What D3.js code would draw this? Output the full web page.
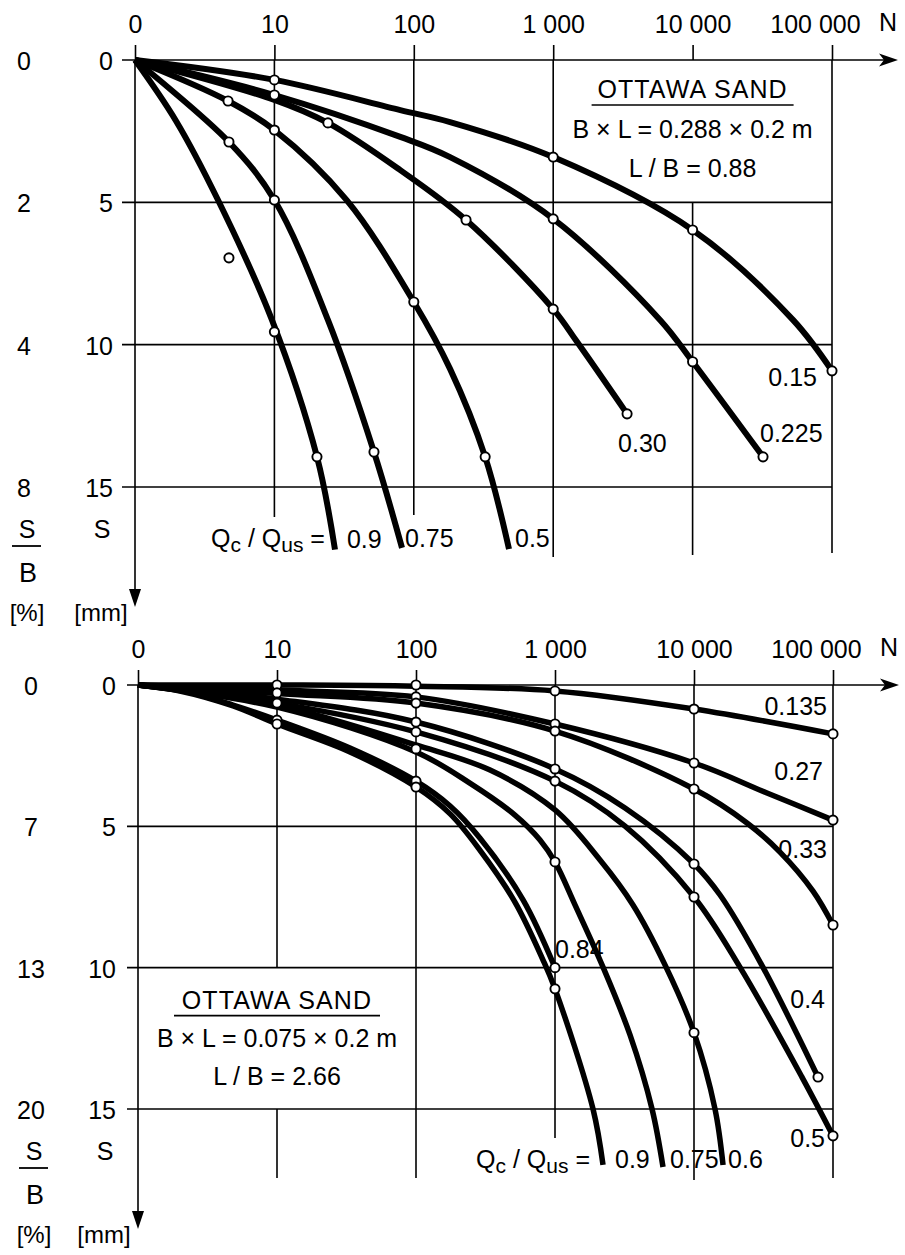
<!DOCTYPE html>
<html>
<head>
<meta charset="utf-8">
<script src="https://cdn.jsdelivr.net/npm/d3@7"></script>
<style>
  body { margin: 0; background: #fff; }
  svg text { font-family: "Liberation Sans", Arial, Helvetica, sans-serif; fill: #000; }
</style>
</head>
<body>
<svg id="chart" width="905" height="1255"></svg>
<script>
// Number of load cycles N (log axis; the "0" tick sits at N = 1)
const nTicks = [1, 10, 100, 1000, 10000, 100000];
const nTickLabels = ["0", "10", "100", "1 000", "10 000", "100 000"];
// Settlement s [mm]
const sTicks = [0, 5, 10, 15];
const topRatioLabels = ["0", "2", "4", "8"];
const bottomRatioLabels = ["0", "7", "13", "20"];

// Upper footing: B x L = 0.288 x 0.2 m, one curve per Qc/Qus
const topRatios = ["0.9", "0.75", "0.5", "0.30", "0.225", "0.15"];
const topN = [
  [1, 1.97, 3.94, 9.6, 20.2, 27.2],
  [1, 4.72, 10, 24.2, 51.8, 82.3],
  [1, 4.65, 10, 33, 100, 182, 325, 482],
  [1, 10, 24.2, 80, 237, 1000, 1482, 3388],
  [1, 10, 80, 182, 1000, 5840, 10000, 32000],
  [1, 10, 80, 182, 1000, 10000, 52500, 100000]
];
const topS = [
  [0, 2.14, 4.92, 9.13, 13.94, 17.2],
  [0, 2.88, 4.92, 9.13, 13.77, 17.14],
  [0, 1.44, 2.46, 4.92, 8.5, 10.85, 13.94, 17.18],
  [0, 1.4, 2.21, 3.87, 5.62, 8.75, 9.9, 12.43],
  [0, 1.23, 2.7, 3.41, 5.58, 9.13, 10.6, 13.94],
  [0, 0.70, 1.76, 2.18, 3.41, 5.97, 9.13, 10.92]
];
// Measured points (upper footing)
const topMarkN = [10, 1000, 10000, 100000, 10, 1000, 10000, 32000, 24.2, 237, 1000, 3388,
                  4.65, 10, 100, 325, 4.72, 10, 51.8, 4.72, 10, 20.2];
const topMarkS = [0.70, 3.41, 5.97, 10.92, 1.23, 5.58, 10.6, 13.94, 2.21, 5.62, 8.75, 12.43,
                  1.44, 2.46, 8.5, 13.94, 2.88, 4.92, 13.77, 6.95, 9.55, 13.94];

// Lower footing: B x L = 0.075 x 0.2 m
const bottomRatios = ["0.135", "0.27", "0.33", "0.4", "0.5", "0.6", "0.75", "0.84", "0.9"];
const bottomN = [
  [1, 10, 100, 1000, 10000, 100000],
  [1, 10, 100, 1000, 10000, 33500, 100000],
  [1, 10, 100, 1000, 10000, 24050, 41550, 71800, 100000],
  [1, 10, 100, 1000, 3190, 10000, 15400, 31300, 78000],
  [1, 10, 100, 1000, 3190, 10000, 21400, 59800, 100000],
  [1, 10, 100, 341, 1000, 2109, 3640, 6185, 10000, 14160, 16180],
  [1, 10, 100, 244, 515, 780, 1000, 1393, 2215, 3465, 4990, 5984],
  [1, 2, 4.83, 10, 33.5, 100, 176, 288, 589, 1000],
  [1, 2, 4.83, 10, 33.5, 100, 176, 288, 515, 820, 1000, 1877, 2215]
];
const bottomS = [
  [0, 0.0, 0.04, 0.21, 0.85, 1.73],
  [0, 0.18, 0.42, 1.38, 2.76, 3.82, 4.78],
  [0, 0.30, 0.64, 1.63, 3.68, 4.88, 5.91, 7.29, 8.49],
  [0, 0.50, 1.31, 2.97, 4.35, 6.33, 7.43, 9.98, 13.87],
  [0, 0.64, 1.66, 3.40, 4.99, 7.5, 9.98, 13.87, 15.95],
  [0, 0.71, 2.12, 3.01, 4.42, 6.19, 7.78, 9.9, 12.3, 15.0, 16.98],
  [0, 0.78, 2.37, 3.47, 4.60, 5.48, 6.26, 7.78, 9.98, 12.38, 15.0, 17.05],
  [0, 0.18, 0.71, 1.24, 2.23, 3.40, 4.28, 5.41, 7.6, 10.0],
  [0, 0.21, 0.74, 1.38, 2.37, 3.61, 4.56, 5.84, 7.68, 9.73, 10.75, 15.0, 16.98]
];
// Measured points (lower footing)
const bottomMarkN = [10, 10, 10, 10, 10,
                     100, 100, 100, 100, 100, 100, 100, 100,
                     1000, 1000, 1000, 1000, 1000, 1000, 1000, 1000,
                     10000, 10000, 10000, 10000, 10000, 10000,
                     100000, 100000, 100000, 100000, 78000];
const bottomMarkS = [0, 0.28, 0.64, 1.24, 1.38,
                     0, 0.42, 0.64, 1.31, 1.66, 2.26, 3.40, 3.61,
                     0.21, 1.38, 1.63, 2.97, 3.40, 6.26, 10.0, 10.75,
                     0.85, 2.76, 3.68, 6.33, 7.5, 12.3,
                     1.73, 4.78, 8.49, 15.95, 13.87];

const svg = d3.select("#chart");

function drawPanel(p) {
  const x = d3.scaleLog().domain([1, 100000]).range(p.xRange);
  const y = d3.scaleLinear().domain([0, 15]).range(p.yRange);
  const g = svg.append("g");
  const y0 = y(0), y15 = y(15), xEnd = x(100000);

  // horizontal grid lines
  g.selectAll("line.hgrid").data(sTicks.slice(1)).join("line")
    .attr("x1", p.gridLeft).attr("x2", xEnd)
    .attr("y1", d => y(d)).attr("y2", d => y(d))
    .attr("stroke", "#000").attr("stroke-width", 1.6);

  // vertical grid lines (one is interrupted behind the legend text)
  nTicks.slice(1).forEach((n, i) => {
    const bottom = y15 + p.gridDrop[i];
    let segs = [[y0, bottom]];
    if (p.gap && p.gap.n === n) segs = [[y0, y(p.gap.from)], [y(p.gap.to), bottom]];
    segs.forEach(([a, b]) => g.append("line")
      .attr("x1", x(n)).attr("x2", x(n)).attr("y1", a).attr("y2", b)
      .attr("stroke", "#000").attr("stroke-width", 1.6));
  });

  // N axis on top
  const axis = d3.axisTop(x).tickValues(nTicks)
    .tickFormat((d, i) => nTickLabels[i]).tickSize(15).tickPadding(12);
  const ag = g.append("g").attr("transform", `translate(0,${y0})`).call(axis);
  ag.select(".domain").remove();
  ag.attr("font-size", 25).attr("font-family", null);
  ag.selectAll(".tick line").attr("stroke", "#000").attr("stroke-width", 1.6);
  ag.selectAll(".tick text").attr("fill", "#000")
    .attr("dx", (d, i) => i === nTicks.length - 1 ? -17 : 0);

  g.append("line").attr("x1", p.gridLeft).attr("x2", p.arrowX - 12)
    .attr("y1", y0).attr("y2", y0).attr("stroke", "#000").attr("stroke-width", 1.6);
  g.append("path")
    .attr("d", `M${p.arrowX},${y0} L${p.arrowX - 19},${y0 - 6.5} L${p.arrowX - 14},${y0} L${p.arrowX - 19},${y0 + 6.5} Z`)
    .attr("fill", "#000");
  g.append("text").attr("x", p.arrowX - 10).attr("y", y0 - 29)
    .attr("text-anchor", "middle").attr("font-size", 25).text("N");

  // settlement axis (downwards)
  const ax0 = x(1), tip = y15 + 120;
  g.append("line").attr("x1", ax0).attr("x2", ax0).attr("y1", y0).attr("y2", tip - 10)
    .attr("stroke", "#000").attr("stroke-width", 1.6);
  g.append("path")
    .attr("d", `M${ax0},${tip} L${ax0 - 6},${tip - 18} L${ax0 + 6},${tip - 18} Z`)
    .attr("fill", "#000");

  // s [mm] and s/B [%] tick labels
  sTicks.forEach((s, i) => {
    g.append("text").attr("x", p.col2X).attr("y", y(s) + 10)
      .attr("text-anchor", "end").attr("font-size", 25).text(s);
    g.append("text").attr("x", p.col1X).attr("y", y(s) + 10)
      .attr("text-anchor", "middle").attr("font-size", 25).text(p.ratioLabels[i]);
  });
  g.append("text").attr("x", p.col1X + 3).attr("y", y15 + 51)
    .attr("text-anchor", "middle").attr("font-size", 25).text("S");
  g.append("line").attr("x1", p.col1X - 12).attr("x2", p.col1X + 17)
    .attr("y1", y15 + 59).attr("y2", y15 + 59).attr("stroke", "#000").attr("stroke-width", 1.8);
  g.append("text").attr("x", p.col1X + 4).attr("y", y15 + 95)
    .attr("text-anchor", "middle").attr("font-size", 27).text("B");
  g.append("text").attr("x", p.col1X + 3).attr("y", y15 + 134)
    .attr("text-anchor", "middle").attr("font-size", 24).text("[%]");
  g.append("text").attr("x", p.col2X - 11).attr("y", y15 + 51)
    .attr("text-anchor", "middle").attr("font-size", 25).text("S");
  g.append("text").attr("x", p.col2X - 12).attr("y", y15 + 134)
    .attr("text-anchor", "middle").attr("font-size", 24).text("[mm]");

  // legend block
  const lx = x(p.legend.n), ly = y(p.legend.s);
  g.append("text").attr("x", lx).attr("y", ly + p.legend.dy[0])
    .attr("text-anchor", "middle").attr("font-size", 25).attr("letter-spacing", 1.1)
    .text("OTTAWA SAND");
  g.append("line").attr("x1", lx - p.legend.ulHalf).attr("x2", lx + p.legend.ulHalf)
    .attr("y1", ly + p.legend.dy[0] + 7).attr("y2", ly + p.legend.dy[0] + 7)
    .attr("stroke", "#000").attr("stroke-width", 1.6);
  g.append("text").attr("x", lx).attr("y", ly + p.legend.dy[1])
    .attr("text-anchor", "middle").attr("font-size", 25).text(p.legend.size);
  g.append("text").attr("x", lx).attr("y", ly + p.legend.dy[2])
    .attr("text-anchor", "middle").attr("font-size", 25).text(p.legend.ratio);

  // curves
  const line = d3.line().x(d => x(d[0])).y(d => y(d[1])).curve(d3.curveCatmullRom.alpha(0.5));
  p.ratios.forEach((r, k) => {
    const pts = p.N[k].map((n, j) => [n, p.S[k][j]]);
    g.append("path").attr("d", line(pts)).attr("fill", "none")
      .attr("stroke", "#000").attr("stroke-width", p.curveWidth)
      .attr("stroke-linejoin", "round");
    const last = pts[pts.length - 1];
    const off = p.labelOffsets[r];
    g.append("text").attr("x", x(last[0]) + off[0]).attr("y", y(last[1]) + off[1])
      .attr("text-anchor", off[2]).attr("font-size", 25).text(r);
  });

  // measured points
  g.selectAll("circle.mark").data(p.markN.map((n, j) => [n, p.markS[j]])).join("circle")
    .attr("cx", d => x(d[0])).attr("cy", d => y(d[1])).attr("r", 4.6)
    .attr("fill", "#fff").attr("stroke", "#000").attr("stroke-width", 1.9);

  // Qc / Qus = caption, placed left of the steepest curve's end
  const k0 = p.ratios.indexOf(p.captionAfter);
  const endN = p.N[k0][p.N[k0].length - 1], endS = p.S[k0][p.S[k0].length - 1];
  const cap = g.append("text").attr("x", x(endN) + p.captionOffset[0])
    .attr("y", y(endS) + p.captionOffset[1])
    .attr("text-anchor", "end").attr("font-size", 25);
  cap.append("tspan").text("Q");
  cap.append("tspan").attr("font-size", 21).attr("dy", 5).text("c");
  cap.append("tspan").attr("dy", -5).text(" / Q");
  cap.append("tspan").attr("font-size", 21).attr("dy", 5).text("us");
  cap.append("tspan").attr("dy", -5).text(" =");
}

drawPanel({
  xRange: [135, 832], yRange: [60, 487],
  gridLeft: 122, arrowX: 898,
  gridDrop: [30, 28, 70, 68, 66],
  gap: { n: 10000, from: 0, to: 5 },
  col1X: 24, col2X: 113,
  ratioLabels: topRatioLabels,
  legend: { n: 10000, s: 0, dy: [38, 78, 117], ulHalf: 101,
            size: "B \u00d7 L = 0.288 \u00d7 0.2 m", ratio: "L / B = 0.88" },
  ratios: topRatios, N: topN, S: topS,
  markN: topMarkN, markS: topMarkS,
  curveWidth: 6,
  labelOffsets: {
    "0.9": [12, -2, "start"], "0.75": [3, -1, "start"], "0.5": [6, -2, "start"],
    "0.30": [-9, 38, "start"], "0.225": [-3, -15, "start"], "0.15": [-15, 15, "end"]
  },
  captionAfter: "0.9", captionOffset: [-10, -3]
});

drawPanel({
  xRange: [138, 833], yRange: [685, 1109],
  gridLeft: 127, arrowX: 899,
  gridDrop: [69, 69, 29, 71, 69],
  gap: { n: 10, from: 10, to: 15 },
  col1X: 31, col2X: 116,
  ratioLabels: bottomRatioLabels,
  legend: { n: 10, s: 10, dy: [41, 79, 117], ulHalf: 103,
            size: "B \u00d7 L = 0.075 \u00d7 0.2 m", ratio: "L / B = 2.66" },
  ratios: bottomRatios, N: bottomN, S: bottomS,
  markN: bottomMarkN, markS: bottomMarkS,
  curveWidth: 5.5,
  labelOffsets: {
    "0.135": [-6, -19, "end"], "0.27": [-10, -40, "end"], "0.33": [-6, -67, "end"],
    "0.4": [7, -69, "end"], "0.5": [-8, 11, "end"], "0.6": [5, 3, "start"],
    "0.75": [7, 1, "start"], "0.84": [0, -10, "start"], "0.9": [12, 3, "start"]
  },
  captionAfter: "0.9", captionOffset: [-13, 3]
});
</script>
</body>
</html>
